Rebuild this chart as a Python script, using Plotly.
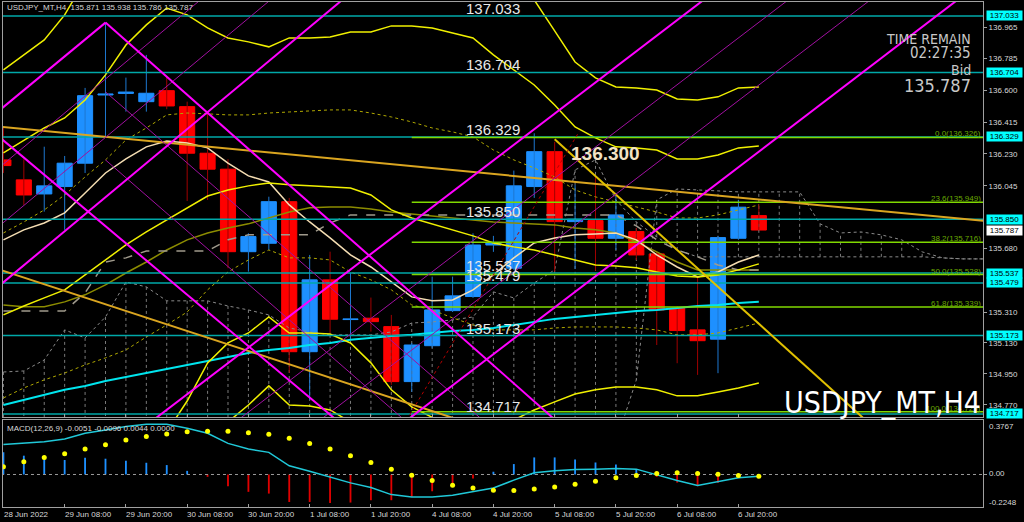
import plotly.graph_objects as go

# ---------------- time axis (H4 bars; bar 0 = 28 Jun 20:00) ----------------
tick_idx = [3, 6, 9, 12, 15, 18, 21, 24, 27, 30, 33, 36]
tick_lbl = ["29 Jun 08:00", "29 Jun 20:00", "30 Jun 08:00", "30 Jun 20:00", "1 Jul 08:00",
            "1 Jul 20:00", "4 Jul 08:00", "4 Jul 20:00", "5 Jul 08:00", "5 Jul 20:00",
            "6 Jul 08:00", "6 Jul 20:00"]
first_lbl = "28 Jun 2022"

# ---------------- candles ----------------
opens = [136.195, 136.079, 135.997, 136.040, 136.176, 136.573, 136.582, 136.534, 136.598, 136.505,
         136.234, 136.141, 135.661, 135.710, 135.952, 135.079, 135.497, 135.266, 135.274, 135.225,
         134.905, 135.114, 135.318, 135.400, 135.700, 135.565, 136.040, 136.243, 135.836, 135.842,
         135.739, 135.778, 135.648, 135.332, 135.206, 135.152, 135.739, 135.871]
highs = [136.389, 136.199, 136.272, 136.218, 136.614, 136.994, 136.674, 136.806, 136.680, 136.534,
         136.470, 136.199, 135.768, 135.981, 135.974, 135.642, 135.661, 135.539, 135.394, 135.293,
         135.130, 135.516, 135.516, 135.768, 135.753, 136.133, 136.350, 136.300, 136.050, 136.098,
         136.003, 135.799, 135.660, 135.345, 135.516, 135.753, 135.962, 135.938]
lows = [136.119, 135.933, 135.894, 135.788, 136.119, 136.335, 136.476, 136.476, 136.490, 135.956,
        135.962, 135.565, 135.545, 135.671, 134.956, 134.798, 135.188, 135.148, 135.196, 134.886,
        134.845, 135.101, 135.310, 135.392, 135.660, 135.555, 135.974, 135.545, 135.560, 135.550,
        135.671, 135.613, 135.118, 135.012, 134.944, 134.954, 135.730, 135.786]
closes = [136.162, 135.991, 136.044, 136.176, 136.569, 136.579, 136.590, 136.583, 136.509, 136.234,
          136.141, 135.661, 135.749, 135.952, 135.079, 135.497, 135.268, 135.270, 135.254, 134.905,
          135.118, 135.322, 135.404, 135.700, 135.714, 136.044, 136.243, 135.836, 135.850, 135.739,
          135.875, 135.642, 135.322, 135.202, 135.143, 135.743, 135.920, 135.787]

# ---------------- indicators (per bar) ----------------
bb_mid = [135.293, 135.345, 135.392, 135.439, 135.526, 135.613, 135.700, 135.776, 135.846, 135.916,
          135.985, 136.020, 136.044, 136.061, 136.050, 136.044, 136.038, 136.032, 135.991, 135.904,
          135.857, 135.823, 135.788, 135.753, 135.712, 135.689, 135.671, 135.642, 135.613, 135.584,
          135.578, 135.567, 135.543, 135.520, 135.514, 135.526, 135.555, 135.590]
bb_up2 = [136.236, 136.311, 136.381, 136.439, 136.544, 136.690, 136.864, 136.981, 137.079, 137.039,
          136.963, 136.905, 136.882, 136.853, 136.905, 136.905, 136.911, 136.940, 136.940, 136.975,
          136.975, 136.963, 136.934, 136.905, 136.806, 136.719, 136.631, 136.515, 136.387, 136.323,
          136.271, 136.265, 136.253, 136.201, 136.201, 136.224, 136.265, 136.276]
bb_lo2 = [134.350, 134.379, 134.403, 134.438, 134.507, 134.537, 134.537, 134.571, 134.612, 134.792,
          135.014, 135.130, 135.188, 135.281, 135.188, 135.188, 135.182, 135.130, 135.014, 134.857,
          134.758, 134.694, 134.636, 134.612, 134.624, 134.682, 134.740, 134.787, 134.833, 134.857,
          134.874, 134.874, 134.857, 134.822, 134.822, 134.845, 134.868, 134.897]
bb_up3 = [136.719, 136.806, 136.893, 137.039, 137.242, 137.359, 137.475, 137.562, 137.696, 137.650,
          137.592, 137.504, 137.475, 137.446, 137.475, 137.475, 137.475, 137.504, 137.504, 137.533,
          137.504, 137.475, 137.417, 137.359, 137.271, 137.196, 137.126, 136.946, 136.765, 136.672,
          136.620, 136.614, 136.602, 136.550, 136.544, 136.562, 136.614, 136.620]
bb_lo3 = [133.867, 133.897, 133.926, 133.955, 134.042, 133.984, 133.955, 133.984, 133.984, 134.217,
          134.507, 134.670, 134.769, 134.880, 134.769, 134.763, 134.740, 134.670, 134.507, 134.275,
          134.158, 134.071, 134.013, 133.984, 133.984, 134.158, 134.217, 134.333, 134.449, 134.478,
          134.537, 134.537, 134.507, 134.478, 134.478, 134.507, 134.537, 134.566]
bb_up1 = [135.770, 135.834, 135.904, 135.991, 136.096, 136.195, 136.311, 136.381, 136.457, 136.468,
          136.463, 136.457, 136.457, 136.468, 136.474, 136.480, 136.486, 136.486, 136.468, 136.445,
          136.416, 136.381, 136.358, 136.329, 136.253, 136.195, 136.148, 136.096, 136.020, 135.980,
          135.951, 135.921, 135.892, 135.857, 135.857, 135.875, 135.904, 135.933]
bb_lo1 = [134.810, 134.868, 134.915, 134.955, 135.002, 135.043, 135.089, 135.165, 135.235, 135.310,
          135.439, 135.543, 135.613, 135.671, 135.625, 135.625, 135.613, 135.543, 135.497, 135.439,
          135.351, 135.322, 135.276, 135.235, 135.206, 135.206, 135.206, 135.217, 135.223, 135.223,
          135.223, 135.217, 135.206, 135.177, 135.177, 135.188, 135.217, 135.246]
tenkan = [135.730, 135.788, 135.828, 135.887, 136.003, 136.119, 136.201, 136.271, 136.305, 136.294,
          136.265, 136.177, 136.102, 136.067, 135.933, 135.834, 135.741, 135.642, 135.572, 135.485,
          135.398, 135.375, 135.380, 135.439, 135.526, 135.625, 135.712, 135.741, 135.759, 135.764,
          135.770, 135.730, 135.642, 135.572, 135.514, 135.543, 135.601, 135.642]
kijun = [135.316, 135.316, 135.316, 135.316, 135.421, 135.601, 135.625, 135.665, 135.665, 135.665,
         135.665, 135.730, 135.759, 135.759, 135.759, 135.759, 135.828, 135.875, 135.875, 135.875,
         135.875, 135.875, 135.875, 135.875, 135.875, 135.875, 135.875, 135.875, 135.875, 135.875,
         135.875, 135.811, 135.730, 135.671, 135.631, 135.584, 135.555, 135.555]
olive_ma = [135.351, 135.340, 135.340, 135.369, 135.410, 135.468, 135.537, 135.601, 135.671, 135.730,
            135.770, 135.799, 135.823, 135.857, 135.892, 135.916, 135.921, 135.921, 135.910, 135.892,
            135.881, 135.869, 135.857, 135.846, 135.834, 135.828, 135.823, 135.817, 135.799, 135.788,
            135.770, 135.718, 135.660, 135.601, 135.555, 135.555, 135.555, 135.555]
cyan_ma = [134.769, 134.798, 134.827, 134.857, 134.880, 134.909, 134.932, 134.955, 134.979, 135.002,
           135.025, 135.049, 135.072, 135.089, 135.101, 135.118, 135.130, 135.148, 135.159, 135.171,
           135.177, 135.188, 135.200, 135.206, 135.217, 135.235, 135.252, 135.270, 135.281, 135.293,
           135.305, 135.316, 135.322, 135.334, 135.345, 135.351, 135.363, 135.369]
# cloud (runs 11 bars past the last candle)
span_a = [134.961, 134.967, 135.031, 135.206, 135.159, 135.281, 135.485, 135.456, 135.375, 135.375,
          135.375, 135.345, 135.322, 135.293, 135.217, 135.194, 135.177, 135.177, 135.177, 135.194,
          135.246, 135.252, 135.264, 135.281, 135.427, 135.392, 135.479, 135.555, 136.137, 136.195,
          135.962, 135.834, 135.747, 135.671, 135.631, 135.631, 135.631, 135.631, 135.631, 135.631,
          135.631, 135.631, 135.631, 135.631, 135.631, 135.631, 135.625, 135.619, 135.619]
span_b = [134.40, 134.41, 134.42, 134.42, 134.43, 134.43, 134.44, 134.44, 134.45, 134.45,
          134.45, 134.46, 134.46, 134.46, 134.47, 134.47, 134.47, 134.48, 134.48, 134.48,
          134.49, 134.49, 134.50, 134.50, 134.50, 134.51, 134.51, 134.52, 134.52, 134.53,
          134.55, 134.915, 135.962, 136.026, 136.020, 136.015, 136.009, 136.009, 136.009, 136.009,
          135.823, 135.770, 135.776, 135.759, 135.730, 135.660, 135.625, 135.619, 135.619]

# ---------------- MACD panel ----------------
macd_line = [0.208, 0.218, 0.227, 0.245, 0.285, 0.308, 0.331, 0.347, 0.347, 0.319,
             0.285, 0.215, 0.176, 0.153, 0.060, 0.023, -0.016, -0.058, -0.090, -0.139,
             -0.155, -0.155, -0.144, -0.116, -0.093, -0.039, 0.012, 0.025, 0.035, 0.037,
             0.042, 0.037, -0.005, -0.042, -0.076, -0.051, -0.023, -0.012]
macd_sig = [0.053, 0.088, 0.118, 0.144, 0.176, 0.206, 0.238, 0.262, 0.280, 0.296,
            0.299, 0.299, 0.289, 0.278, 0.250, 0.215, 0.176, 0.130, 0.083, 0.037,
            -0.005, -0.042, -0.074, -0.093, -0.109, -0.111, -0.100, -0.086, -0.067, -0.046,
            -0.023, -0.007, 0.007, 0.012, 0.007, 0.002, -0.007, -0.012]
macd_hist = [0.153, 0.130, 0.111, 0.100, 0.116, 0.109, 0.095, 0.081, 0.065, 0.025,
             -0.016, -0.081, -0.120, -0.132, -0.190, -0.190, -0.197, -0.194, -0.178, -0.178,
             -0.155, -0.116, -0.074, -0.028, 0.019, 0.072, 0.118, 0.118, 0.104, 0.083,
             0.069, 0.035, -0.016, -0.056, -0.081, -0.058, -0.021, 0.0]
macd_title = "MACD(12,26,9) -0.0051 -0.0096 0.0044 0.0000"
macd_axis_txt = ["0.3767", "0.00", "-0.2248"]

# ---------------- drawn objects ----------------
level_prices = [137.033, 136.704, 136.329, 135.850, 135.537, 135.479, 135.173, 134.717]
level_texts = ["137.033", "136.704", "136.329", "135.850", "135.537", "135.479", "135.173", "134.717"]
fib_start = 20
fib_prices = [136.326, 135.949, 135.716, 135.528, 135.339, 134.729]
fib_texts = ["0.0(136.326)", "23.6(135.949)", "38.2(135.716)", "50.0(135.528)",
             "61.8(135.339)", "100.0(134.729)"]
gold_x = [[-0.2, 48.2], [-0.2, 24.0], [27.0, 43.0]]
gold_y = [[136.388, 135.838], [135.557, 134.617], [136.315, 134.598]]
mag_x = [[-0.2, 5.0], [5.0, 27.5], [-0.2, 17.0], [-0.2, 17.0], [7.0, 35.0], [19.5, 47.5]]
mag_y = [[136.483, 136.994], [136.994, 134.632], [136.328, 134.613], [135.463, 137.166],
         [134.650, 137.190], [134.656, 137.196]]
thin_x = [[11.0, 39.0], [15.0, 43.0], [-0.2, 10.0], [-0.2, 13.5], [5.0, 25.0], [5.0, 21.0]]
thin_y = [[134.637, 137.177], [134.635, 137.175], [136.151, 137.161], [135.811, 137.168],
          [136.591, 134.523], [136.195, 134.541]]
red_dot_x = [19.9, 28.2]
red_dot_y = [134.711, 136.360]
right_ticks = [136.965, 136.785, 136.600, 136.415, 136.230, 136.045, 135.680, 135.310,
               135.130, 134.950, 134.770]
bid_price = "135.787"
header = "USDJPY_MT,H4  135.871 135.938 135.786 135.787"
high_mark = "136.300"
time_remain = "02:27:35"
big_title = "USDJPY_MT,H4"

# ---------------- layout helpers ----------------
W, H = 1024, 522
ML, MR, MT, MB = 3, 41, 2, 15
PW, PH = W - ML - MR, H - MT - MB
X_RANGE = [-0.02, 47.98]
Y_RANGE = [134.699, 137.114]
M_RANGE = [-0.2248, 0.3767]
MAIN_DOM = [(PH + MT - 417) / PH, 1.0]
MACD_DOM = [0.0, (PH + MT - 420) / PH]


def pxx(px):
    return (px - ML) / PW


def pxy(py):
    return (PH + MT - py) / PH


FONT = "Liberation Sans, Arial, sans-serif"
NARROW = "Liberation Sans Narrow, Arial Narrow, DejaVu Sans Condensed, Liberation Sans, sans-serif"
TXT = "#d8d8d8"
SMALL = 8

fig = go.Figure()
n = len(opens)
xs = list(range(n))

# cloud hatch + spans (behind candles)
hx, hy = [], []
for i in range(len(span_a)):
    hx += [i, i, None]
    hy += [span_a[i], span_b[i], None]
fig.add_trace(go.Scatter(x=hx, y=hy, mode="lines", line=dict(color="#7a7a7a", width=1, dash="dot"),
                         hoverinfo="skip"))
for s in (span_a, span_b):
    fig.add_trace(go.Scatter(x=list(range(len(s))), y=s, mode="lines",
                             line=dict(color="#8a8a8a", width=1, dash="dot"), hoverinfo="skip"))

# wicks
for up, col in ((True, "#1e78d0"), (False, "#a00000")):
    wx, wy = [], []
    for i in xs:
        if (closes[i] >= opens[i]) == up:
            wx += [i, i, None]
            wy += [lows[i], highs[i], None]
    fig.add_trace(go.Scatter(x=wx, y=wy, mode="lines", line=dict(color=col, width=1), hoverinfo="skip"))

# bodies
body_base = [min(o, c) for o, c in zip(opens, closes)]
body_h = [abs(c - o) for o, c in zip(opens, closes)]
body_col = ["#1e90ff" if c >= o else "#ff0000" for o, c in zip(opens, closes)]
fig.add_trace(go.Bar(x=xs, y=body_h, base=body_base, width=0.74,
                     marker=dict(color=body_col, line=dict(color=body_col, width=1)), hoverinfo="skip"))


def line(y, color, width=1.5, dash="solid", x=None, xa="x", ya="y"):
    fig.add_trace(go.Scatter(x=x if x is not None else list(range(len(y))), y=y, mode="lines",
                             line=dict(color=color, width=width, dash=dash), hoverinfo="skip",
                             xaxis=xa, yaxis=ya))


line(bb_up1, "#b0a800", 1, "dot")
line(bb_lo1, "#b0a800", 1, "dot")
line(olive_ma, "#8c8c00", 1.5)
line(kijun, "#a09a8c", 1.5, "dash")
line(cyan_ma, "#00e5ee", 2)
line(tenkan, "#f5deb3", 1.5)
for b in (bb_mid, bb_up2, bb_lo2, bb_up3, bb_lo3):
    line(b, "#f0f000", 1.5)

# horizontal levels
for p in level_prices:
    line([p, p], "#00a8a8", 1.5, x=[-1, 49])
for p in fib_prices:
    line([p, p], "#80d800", 1.5, x=[fib_start, 49])

# trend lines
for gx, gy, col in zip(gold_x, gold_y, ["#daa520", "#daa520", "#e0c000"]):
    line(gy, col, 2, x=gx)
for tx, ty in zip(thin_x, thin_y):
    line(ty, "#a010a0", 1, x=tx)
for mx, my in zip(mag_x, mag_y):
    line(my, "#ff00ff", 2, x=mx)
line(red_dot_y, "#b00000", 1, "dot", x=red_dot_x)

# MACD panel
line([0, 0], "#9a9a9a", 1, "dot", x=[-1, 49], xa="x2", ya="y2")
fig.add_trace(go.Bar(x=xs, y=macd_hist, width=0.09, xaxis="x2", yaxis="y2",
                     marker=dict(color=["#1e90ff" if v >= 0 else "#e00000" for v in macd_hist],
                                 line=dict(width=0)), hoverinfo="skip"))
fig.add_trace(go.Scatter(x=xs, y=macd_line, mode="lines", line=dict(color="#20c8d8", width=1.5),
                         xaxis="x2", yaxis="y2", hoverinfo="skip"))
fig.add_trace(go.Scatter(x=xs, y=macd_sig, mode="markers", marker=dict(color="#ffff00", size=5),
                         xaxis="x2", yaxis="y2", hoverinfo="skip"))

ann = []
for p, t in zip(level_prices, level_texts):
    ann.append(dict(xref="paper", yref="y", x=pxx(464), y=p, text=t, xanchor="left", yanchor="bottom",
                    showarrow=False, font=dict(family=FONT, size=15, color="#e8e8e8"), yshift=-3))
    ann.append(dict(xref="paper", yref="y", x=pxx(986), y=p, text=t, xanchor="left", yanchor="middle",
                    showarrow=False, font=dict(family=FONT, size=SMALL, color="#000000"),
                    bgcolor="#00ffff", width=35, height=9, borderpad=0))
ann.append(dict(xref="paper", yref="y", x=pxx(986), y=float(bid_price), text=bid_price, xanchor="left",
                yanchor="middle", showarrow=False, font=dict(family=FONT, size=SMALL, color="#000000"),
                bgcolor="#ffffff", width=35, height=9, borderpad=0))
for p, t in zip(fib_prices, fib_texts):
    ann.append(dict(xref="paper", yref="y", x=1.0, y=p, text=t, xanchor="right", yanchor="bottom",
                    showarrow=False, font=dict(family=FONT, size=SMALL, color="#6aa800"), yshift=-3))
ann.append(dict(xref="paper", yref="paper", x=pxx(5), y=pxy(7), text=header, xanchor="left",
                yanchor="middle", showarrow=False, font=dict(family=FONT, size=SMALL, color=TXT)))
ann.append(dict(xref="paper", yref="paper", x=pxx(973), y=pxy(39), text="TIME REMAIN", xanchor="right",
                yanchor="middle", showarrow=False, font=dict(family=NARROW, size=14, color="#c8c8c8")))
ann.append(dict(xref="paper", yref="paper", x=pxx(973), y=pxy(53), text=time_remain, xanchor="right",
                yanchor="middle", showarrow=False, font=dict(family=NARROW, size=15, color="#c8c8c8")))
ann.append(dict(xref="paper", yref="paper", x=pxx(973), y=pxy(70), text="Bid", xanchor="right",
                yanchor="middle", showarrow=False, font=dict(family=NARROW, size=14, color="#c8c8c8")))
ann.append(dict(xref="paper", yref="paper", x=pxx(973), y=pxy(85), text=bid_price, xanchor="right",
                yanchor="middle", showarrow=False, font=dict(family=NARROW, size=18, color="#c8c8c8")))
ann.append(dict(xref="paper", yref="paper", x=pxx(569), y=pxy(153), text="<b>" + high_mark + "</b>",
                xanchor="left", yanchor="middle", showarrow=False,
                font=dict(family=FONT, size=19, color="#f2e2c4")))
ann.append(dict(xref="paper", yref="paper", x=1.0, y=pxy(402), text=big_title, xanchor="right",
                yanchor="middle", showarrow=False, font=dict(family=NARROW, size=30, color="#ffffff")))
ann.append(dict(xref="paper", yref="paper", x=pxx(5), y=pxy(428), text=macd_title, xanchor="left",
                yanchor="middle", showarrow=False, font=dict(family=FONT, size=SMALL, color=TXT)))
for v_py, t in zip([426, 474, 502], macd_axis_txt):
    ann.append(dict(xref="paper", yref="paper", x=pxx(987), y=pxy(v_py), text=t, xanchor="left",
                    yanchor="middle", showarrow=False, font=dict(family=FONT, size=SMALL, color=TXT)))
ann.append(dict(xref="paper", yref="paper", x=pxx(2), y=pxy(514), text=first_lbl, xanchor="left",
                yanchor="middle", showarrow=False, font=dict(family=FONT, size=SMALL, color=TXT)))
for i, t in zip(tick_idx, tick_lbl):
    ann.append(dict(xref="x2", yref="paper", x=i, y=pxy(514), text=t, xanchor="left", xshift=-2,
                    yanchor="middle", showarrow=False, font=dict(family=FONT, size=SMALL, color=TXT)))

axis_common = dict(showgrid=False, zeroline=False, showline=True, linecolor="#a0a0a0", linewidth=1,
                   mirror=True, automargin=False)
fig.update_layout(
    template="none",
    width=W, height=H, margin=dict(l=ML, r=MR, t=MT, b=MB, autoexpand=False),
    paper_bgcolor="#000000", plot_bgcolor="#000000", showlegend=False, barmode="overlay",
    hovermode=False,
    xaxis=dict(domain=[0, 1], range=X_RANGE, anchor="y", showticklabels=False, ticks="inside",
               tickvals=tick_idx, ticklen=3, tickcolor="#a0a0a0", **axis_common),
    yaxis=dict(domain=MAIN_DOM, range=Y_RANGE, side="right", anchor="x", tickvals=right_ticks,
               ticktext=["%.3f" % v for v in right_ticks], ticks="outside", ticklen=3,
               tickcolor="#a0a0a0", tickfont=dict(family=FONT, size=SMALL, color=TXT), **axis_common),
    xaxis2=dict(domain=[0, 1], range=X_RANGE, anchor="y2", showticklabels=False, ticks="inside",
                tickvals=tick_idx, ticklen=3, tickcolor="#a0a0a0", **axis_common),
    yaxis2=dict(domain=MACD_DOM, range=M_RANGE, side="right", anchor="x2", showticklabels=False,
                ticks="outside", tickvals=[0], ticklen=3, tickcolor="#a0a0a0", **axis_common),
    annotations=ann,
)
fig.write_html("out.html", config={"displayModeBar": False, "staticPlot": True},
               post_script="document.body.style.margin='0';document.body.style.background='#000';")
